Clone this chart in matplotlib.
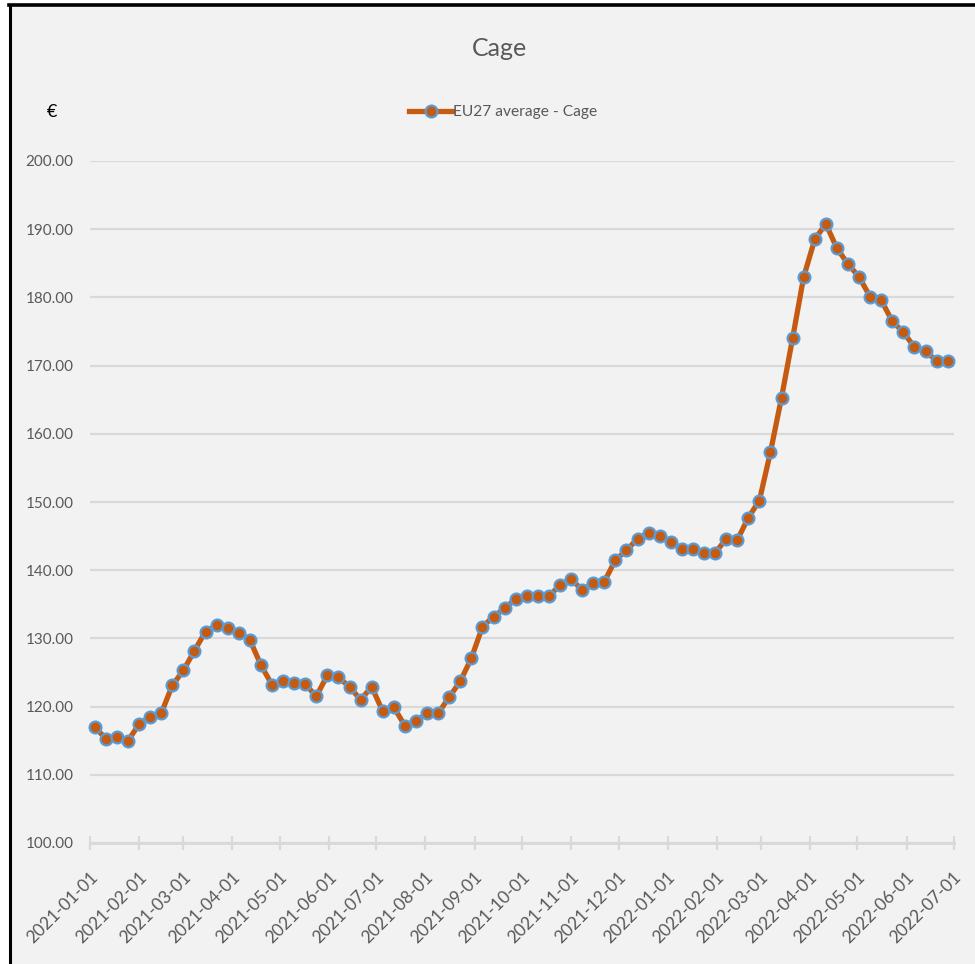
import numpy as np
import pandas as pd
import matplotlib
matplotlib.use('Agg')
import matplotlib.pyplot as plt
import matplotlib.dates as mdates
import matplotlib.transforms as mtransforms
from matplotlib.lines import Line2D

plt.rcParams['font.family'] = ['Lato', 'DejaVu Sans']

# weekly EU27 average price, Cage eggs (EUR / 100 kg)
week_start = '2021-01-04'
n_weeks = 78
prices = [
    117.0, 115.3, 115.5, 115.0, 117.4, 118.5, 119.0, 123.1, 125.3, 128.2,
    131.0, 131.9, 131.5, 130.8, 129.8, 126.1, 123.2, 123.7, 123.4, 123.3,
    121.5, 124.6, 124.3, 122.9, 121.0, 122.9, 119.3, 119.9, 117.2, 117.9,
    119.0, 119.0, 121.4, 123.7, 127.1, 131.7, 133.2, 134.4, 135.8, 136.2,
    136.2, 136.2, 137.8, 138.7, 137.1, 138.1, 138.3, 141.5, 142.9, 144.6,
    145.5, 145.0, 144.2, 143.1, 143.1, 142.5, 142.5, 144.6, 144.4, 147.7,
    150.2, 157.3, 165.3, 174.0, 183.0, 188.5, 190.8, 187.2, 184.9, 183.0,
    180.1, 179.6, 176.5, 174.9, 172.7, 172.1, 170.7, 170.7,
]
series_label = 'EU27 average - Cage'
title = 'Cage'
y_unit = '€'
y_ticks = [100, 110, 120, 130, 140, 150, 160, 170, 180, 190, 200]

dates = pd.date_range(week_start, periods=n_weeks, freq='7D')

text_col = '#595959'
grid_col = '#d9d9d9'
bg_col = '#f2f2f2'

fig = plt.figure(figsize=(9.75, 9.64), dpi=100, facecolor=bg_col)
# white margin outside the black frame on top / left
fig.patches.append(plt.Rectangle((0, 0), 9 / 975, 1, transform=fig.transFigure,
                                 facecolor='white', edgecolor='none'))
fig.patches.append(plt.Rectangle((0, 1 - 5 / 964), 1, 5 / 964, transform=fig.transFigure,
                                 facecolor='white', edgecolor='none'))
fig.lines.append(Line2D([9.5 / 975, 9.5 / 975], [0, 1 - 5 / 964], transform=fig.transFigure,
                        color='black', lw=2.2))
fig.lines.append(Line2D([9 / 975, 1], [1 - 5 / 964, 1 - 5 / 964], transform=fig.transFigure,
                        color='black', lw=2.6))

ax = fig.add_axes([90 / 975, 121 / 964, 864 / 975, 682 / 964])
ax.set_facecolor('none')

ax.plot(dates, prices, color='#c55a11', lw=3.8, marker='o', ms=8.5,
        markerfacecolor='#c55a11', markeredgecolor='#5b9bd5', markeredgewidth=1.6,
        label=series_label, zorder=3, clip_on=False)

ax.set_xlim(pd.Timestamp('2021-01-01'), pd.Timestamp('2022-07-01'))
ax.set_ylim(100, 200)
ax.set_yticks(y_ticks)
ax.set_yticklabels([f'{v:.2f}' for v in y_ticks])
ax.grid(axis='y', color=grid_col, lw=1.6)
ax.set_axisbelow(True)

ax.xaxis.set_major_locator(mdates.MonthLocator())
ax.xaxis.set_major_formatter(mdates.DateFormatter('%Y-%m-%d'))

for side in ['top', 'right', 'left']:
    ax.spines[side].set_visible(False)
ax.spines['bottom'].set_color(grid_col)
ax.spines['bottom'].set_linewidth(2)

ax.tick_params(axis='y', length=0, pad=12, labelsize=11, labelcolor=text_col)
ax.tick_params(axis='x', direction='inout', length=10, width=1.6, color=grid_col,
               pad=8, labelsize=12.5, labelcolor=text_col)
shift = mtransforms.ScaledTranslation(0.05, -0.14, fig.dpi_scale_trans)
for lbl in ax.get_xticklabels():
    lbl.set_rotation(45)
    lbl.set_ha('right')
    lbl.set_va('center')
    lbl.set_rotation_mode('anchor')
    lbl.set_transform(lbl.get_transform() + shift)

fig.text(500 / 975, 1 - 49 / 964, title, ha='center', va='center', fontsize=18, color=text_col)
fig.text(52 / 975, 1 - 112 / 964, y_unit, ha='center', va='center', fontsize=13, color='black')

ax.legend(loc='center', bbox_to_anchor=(503 / 975, 1 - 112 / 964), bbox_transform=fig.transFigure,
          frameon=False, fontsize=11.2, labelcolor=text_col, handlelength=2.8, handletextpad=0.05)

fig.savefig('out.png', dpi=100, facecolor=fig.get_facecolor())
